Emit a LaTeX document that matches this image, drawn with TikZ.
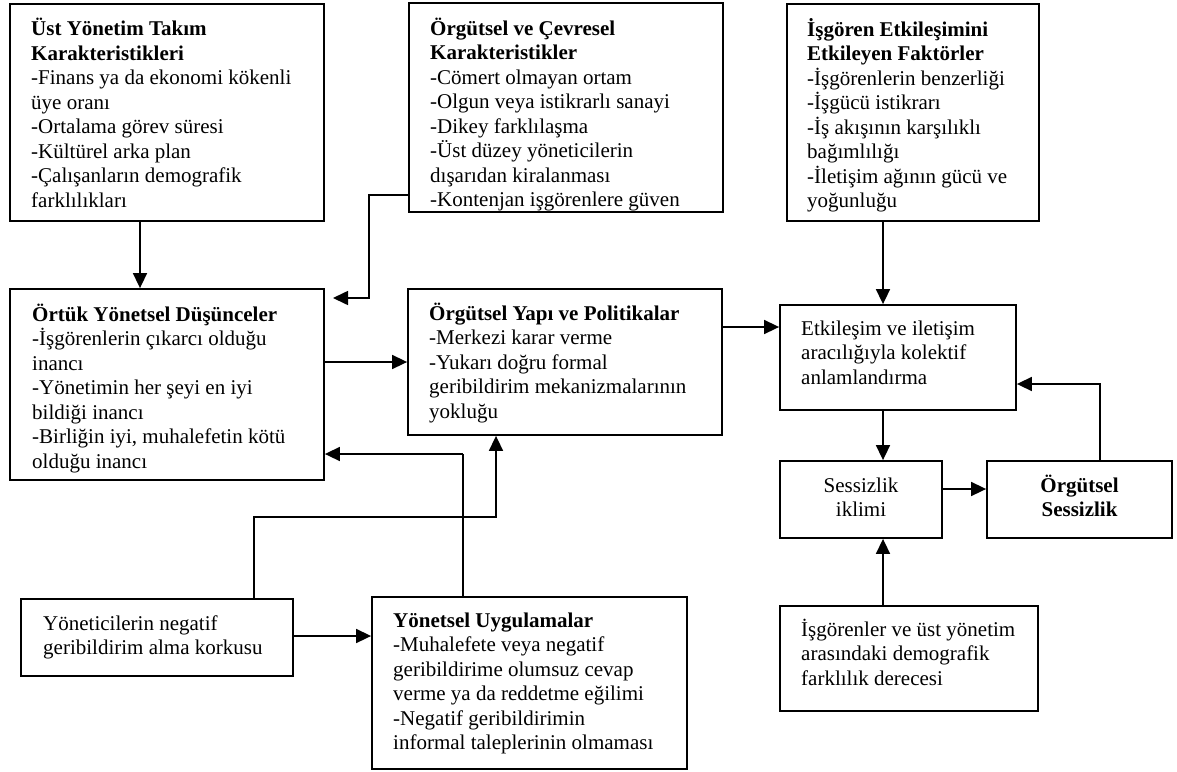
\documentclass[tikz,border=0pt]{standalone}
\usepackage{fontspec}
\setmainfont{Liberation Serif}
\usetikzlibrary{arrows.meta}
\newcommand{\mystrut}{\rule{0pt}{20pt}}
\begin{document}
\begin{tikzpicture}[x=1pt,y=-1pt,
  box/.style={draw, line width=1.8pt, inner sep=0pt, rectangle},
  txt/.style={inner sep=0pt, anchor=north west, align=left, font=\fontsize{21}{24.5}\selectfont},
  ctxt/.style={inner sep=0pt, anchor=north, align=center, font=\fontsize{21}{24.5}\selectfont},
  arr/.style={line width=1.6pt, -{Triangle[length=15pt,width=14pt]}},
  ln/.style={line width=1.6pt}]
\useasboundingbox (0,0) rectangle (1177,771);
% boxes
\node[box, minimum width=314pt, minimum height=217pt] (A) at (167,112.5) {};
\node[box, minimum width=314pt, minimum height=209pt] (B) at (566,107.5) {};
\node[box, minimum width=252pt, minimum height=217pt] (C) at (913,112.5) {};
\node[box, minimum width=314pt, minimum height=191pt] (D) at (167,384.5) {};
\node[box, minimum width=314pt, minimum height=146pt] (E) at (565,362) {};
\node[box, minimum width=236pt, minimum height=105pt] (F) at (898,357.5) {};
\node[box, minimum width=162pt, minimum height=77pt] (G) at (861,499.5) {};
\node[box, minimum width=185pt, minimum height=77pt] (H) at (1079.5,499.5) {};
\node[box, minimum width=258pt, minimum height=105pt] (I) at (909,658.5) {};
\node[box, minimum width=272pt, minimum height=77pt] (J) at (157,637.5) {};
\node[box, minimum width=315pt, minimum height=172pt] (K) at (529.5,683) {};
% texts
\node[txt] (tA) at (31,15.5) {\mystrut\textbf{Üst Yönetim Takım}\\\textbf{Karakteristikleri}\\-Finans ya da ekonomi kökenli\\üye oranı\\-Ortalama görev süresi\\-Kültürel arka plan\\-Çalışanların demografik\\farklılıkları};
\node[txt] (tB) at (430,15) {\mystrut\textbf{Örgütsel ve Çevresel}\\\textbf{Karakteristikler}\\-Cömert olmayan ortam\\-Olgun veya istikrarlı sanayi\\-Dikey farklılaşma\\-Üst düzey yöneticilerin\\dışarıdan kiralanması\\-Kontenjan işgörenlere güven};
\node[txt] (tC) at (807,16) {\mystrut\textbf{İşgören Etkileşimini}\\\textbf{Etkileyen Faktörler}\\-İşgörenlerin benzerliği\\-İşgücü istikrarı\\-İş akışının karşılıklı\\bağımlılığı\\-İletişim ağının gücü ve\\yoğunluğu};
\node[txt] (tD) at (32,301) {\mystrut\textbf{Örtük Yönetsel Düşünceler}\\-İşgörenlerin çıkarcı olduğu\\inancı\\-Yönetimin her şeyi en iyi\\bildiği inancı\\-Birliğin iyi, muhalefetin kötü\\olduğu inancı};
\node[txt] (tE) at (429,300) {\mystrut\textbf{Örgütsel Yapı ve Politikalar}\\-Merkezi karar verme\\-Yukarı doğru formal\\geribildirim mekanizmalarının\\yokluğu};
\node[txt] (tF) at (801,315) {\mystrut Etkileşim ve iletişim\\aracılığıyla kolektif\\anlamlandırma};
\node[ctxt] (tG) at (861,472) {\mystrut Sessizlik\\iklimi};
\node[ctxt] (tH) at (1079.5,472) {\mystrut\textbf{Örgütsel}\\\textbf{Sessizlik}};
\node[txt] (tI) at (801,616) {\mystrut İşgörenler ve üst yönetim\\arasındaki demografik\\farklılık derecesi};
\node[txt] (tJ) at (43,610) {\mystrut Yöneticilerin negatif\\geribildirim alma korkusu};
\node[txt] (tK) at (393,607) {\mystrut\textbf{Yönetsel Uygulamalar}\\-Muhalefete veya negatif\\geribildirime olumsuz cevap\\verme ya da reddetme eğilimi\\-Negatif geribildirimin\\informal taleplerinin olmaması};
% connectors
\draw[arr] (A.south -| 140,0) -- (D.north -| 140,0);
\coordinate (bd1) at (369,195);
\coordinate (bd2) at (369,298);
\coordinate (bd3) at (333,298);
\draw[arr] (B.west |- bd1) -- (bd1) -- (bd2) -- (bd3);
\draw[arr] (D.east |- E.west) -- (E.west);
\draw[arr] (E.east |- 0,327) -- (F.west |- 0,327);
\draw[arr] (C.south -| 883,0) -- (F.north -| 883,0);
\draw[arr] (F.south -| 883,0) -- (G.north -| 883,0);
\draw[arr] (G.east |- 0,489) -- (H.west |- 0,489);
\coordinate (hf) at (1100,384);
\draw[arr] (H.north -| hf) -- (hf) -- (F.east |- hf);
\draw[arr] (I.north -| 883,0) -- (G.south -| 883,0);
\draw[arr] (J.east |- 0,636) -- (K.west |- 0,636);
\coordinate (je1) at (254,517);
\coordinate (je2) at (496,517);
\draw[arr] (J.north -| je1) -- (je1) -- (je2) -- (E.south -| je2);
\coordinate (kd1) at (463,454);
\draw[ln] (K.north -| kd1) -- (kd1);
\draw[arr] (kd1) -- (D.east |- kd1);
\end{tikzpicture}
\end{document}
